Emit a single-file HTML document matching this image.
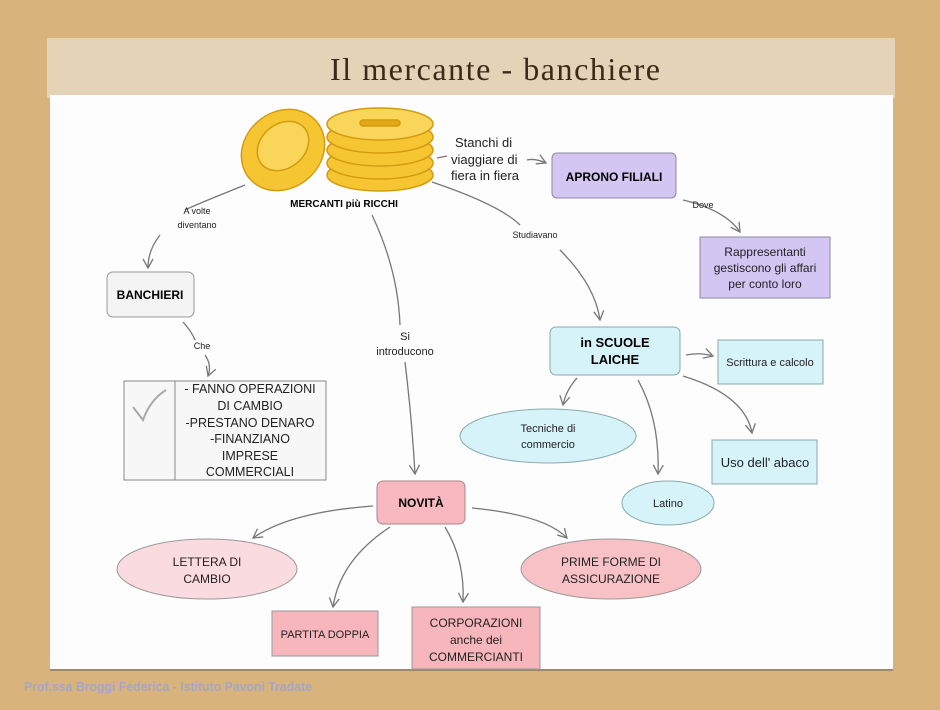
<!DOCTYPE html>
<html><head><meta charset="utf-8"><style>
html,body{margin:0;padding:0;}
body{width:940px;height:705px;overflow:hidden;background:#d8b37c;font-family:"Liberation Sans",sans-serif;}
</style></head><body>
<svg width="940" height="705" viewBox="0 0 940 705" xmlns="http://www.w3.org/2000/svg" font-family="Liberation Sans, sans-serif">
<defs>
<marker id="a" viewBox="0 0 12 12" refX="10" refY="6" markerWidth="12" markerHeight="12" markerUnits="userSpaceOnUse" orient="auto">
<path d="M1,1 L10,6 L1,11" fill="none" stroke="#777" stroke-width="1.3"/>
</marker>
</defs>
<rect width="940" height="705" fill="#d8b37c"/>
<rect x="47" y="38" width="848" height="60" fill="#e4d3b6"/>
<rect x="50" y="95" width="843" height="575" fill="#fdfdfd"/>
<line x1="50" y1="670" x2="893" y2="670" stroke="#9a8a70" stroke-width="2"/>
<text x="495" y="80" text-anchor="middle" font-family="Liberation Serif, serif" font-size="32" fill="#3a2a1a" textLength="330">Il mercante - banchiere</text>

<!-- coins -->
<g stroke="#d49a10" stroke-width="1.5" fill="#f6c632">
<ellipse cx="283" cy="150" rx="38" ry="44" transform="rotate(50 283 150)"/>
<ellipse cx="283" cy="146" rx="22" ry="28" transform="rotate(50 283 146)" fill="#f9d55a"/>
<ellipse cx="380" cy="175" rx="53" ry="16"/>
<ellipse cx="380" cy="163" rx="53" ry="16"/>
<ellipse cx="380" cy="150" rx="53" ry="16"/>
<ellipse cx="380" cy="137" rx="53" ry="16"/>
<ellipse cx="380" cy="124" rx="53" ry="16" fill="#f9d55a"/>
<rect x="360" y="120" width="40" height="6" rx="3" fill="#e0a818"/>
</g>
<text x="344" y="207" text-anchor="middle" font-size="10" font-weight="bold">MERCANTI più RICCHI</text>

<g fill="none" stroke="#777" stroke-width="1.3" marker-end="url(#a)">
<path d="M245,185 Q195,205 185,210 M160,235 Q148,250 148,268"/>
<path d="M527,160 Q535,158 546,163"/>
<path d="M683,200 Q725,210 740,232"/>
<path d="M432,182 Q500,205 520,225 M560,250 Q595,285 600,320"/>
<path d="M372,215 Q398,270 400,325 M405,362 Q412,420 415,474"/>
<path d="M183,322 Q192,332 195,340 M205,355 Q212,365 208,376"/>
<path d="M686,355 Q700,352 713,356"/>
<path d="M577,378 Q566,390 563,405"/>
<path d="M638,380 Q660,420 658,474"/>
<path d="M683,376 Q745,395 752,433"/>
<path d="M373,506 Q290,512 253,538"/>
<path d="M390,527 Q340,560 333,607"/>
<path d="M445,527 Q465,560 463,602"/>
<path d="M472,508 Q545,515 567,538"/>
</g>
<line x1="437" y1="158" x2="447" y2="156" stroke="#777" stroke-width="1.3"/>

<text font-size="13" fill="#222"><tspan x="455" y="147">Stanchi di</tspan><tspan x="451" y="164">viaggiare di</tspan><tspan x="451" y="180">fiera in fiera</tspan></text>
<text font-size="9" fill="#222" text-anchor="middle"><tspan x="197" y="214">A volte</tspan><tspan x="197" y="228">diventano</tspan></text>
<text x="703" y="208" font-size="9" text-anchor="middle" fill="#222">Dove</text>
<text x="535" y="238" font-size="9" text-anchor="middle" fill="#222">Studiavano</text>
<text x="202" y="349" font-size="9" text-anchor="middle" fill="#222">Che</text>
<text font-size="11" fill="#222" text-anchor="middle"><tspan x="405" y="340">Si</tspan><tspan x="405" y="355">introducono</tspan></text>

<rect x="552" y="153" width="124" height="45" rx="5" fill="#d4c6f2" stroke="#8a8a9a"/>
<text x="614" y="181" text-anchor="middle" font-size="12" font-weight="bold">APRONO FILIALI</text>
<rect x="700" y="237" width="130" height="61" fill="#d4c6f2" stroke="#8a8a9a"/>
<text font-size="12" text-anchor="middle" fill="#222"><tspan x="765" y="256">Rappresentanti</tspan><tspan x="765" y="272">gestiscono gli affari</tspan><tspan x="765" y="288">per conto loro</tspan></text>

<rect x="107" y="272" width="87" height="45" rx="6" fill="#f4f4f4" stroke="#999"/>
<text x="150" y="299" text-anchor="middle" font-size="12" font-weight="bold">BANCHIERI</text>

<rect x="124" y="381" width="202" height="99" fill="#f7f7f7" stroke="#888"/>
<line x1="175" y1="381" x2="175" y2="480" stroke="#888"/>
<path d="M133,407 L143,420 Q150,400 166,390" fill="none" stroke="#aaa" stroke-width="2"/>
<text font-size="12.5" text-anchor="middle" fill="#222"><tspan x="250" y="393">- FANNO OPERAZIONI</tspan><tspan x="250" y="410">DI CAMBIO</tspan><tspan x="250" y="427">-PRESTANO DENARO</tspan><tspan x="250" y="443">-FINANZIANO</tspan><tspan x="250" y="460">IMPRESE</tspan><tspan x="250" y="476">COMMERCIALI</tspan></text>

<rect x="550" y="327" width="130" height="48" rx="6" fill="#d7f3fa" stroke="#8aa"/>
<text font-size="13" font-weight="bold" text-anchor="middle"><tspan x="615" y="347">in SCUOLE</tspan><tspan x="615" y="364">LAICHE</tspan></text>
<rect x="718" y="340" width="105" height="44" fill="#d7f3fa" stroke="#8aa"/>
<text x="770" y="366" text-anchor="middle" font-size="11" fill="#222">Scrittura e calcolo</text>
<ellipse cx="548" cy="436" rx="88" ry="27" fill="#d7f3fa" stroke="#8aa"/>
<text font-size="11" text-anchor="middle" fill="#222"><tspan x="548" y="432">Tecniche di</tspan><tspan x="548" y="448">commercio</tspan></text>
<rect x="712" y="440" width="105" height="44" fill="#d7f3fa" stroke="#8aa"/>
<text x="765" y="467" text-anchor="middle" font-size="13" fill="#222">Uso dell' abaco</text>
<ellipse cx="668" cy="503" rx="46" ry="22" fill="#d7f3fa" stroke="#8aa"/>
<text x="668" y="507" text-anchor="middle" font-size="11" fill="#222">Latino</text>

<rect x="377" y="481" width="88" height="43" rx="6" fill="#f8b8bf" stroke="#a88"/>
<text x="421" y="507" text-anchor="middle" font-size="12" font-weight="bold">NOVITÀ</text>
<ellipse cx="207" cy="569" rx="90" ry="30" fill="#fadbe0" stroke="#999"/>
<text font-size="12" text-anchor="middle" fill="#222"><tspan x="207" y="566">LETTERA DI</tspan><tspan x="207" y="583">CAMBIO</tspan></text>
<ellipse cx="611" cy="569" rx="90" ry="30" fill="#f7c1c6" stroke="#999"/>
<text font-size="12" text-anchor="middle" fill="#222"><tspan x="611" y="566">PRIME FORME DI</tspan><tspan x="611" y="583">ASSICURAZIONE</tspan></text>
<rect x="272" y="611" width="106" height="45" fill="#f7b6bc" stroke="#999"/>
<text x="325" y="638" text-anchor="middle" font-size="11" fill="#222">PARTITA DOPPIA</text>
<rect x="412" y="607" width="128" height="62" fill="#f7b6bc" stroke="#999"/>
<text font-size="12" text-anchor="middle" fill="#222"><tspan x="476" y="627">CORPORAZIONI</tspan><tspan x="476" y="644">anche dei</tspan><tspan x="476" y="661">COMMERCIANTI</tspan></text>

<text x="24" y="691" font-size="13" font-weight="bold" fill="#a3a6c8" textLength="288" lengthAdjust="spacingAndGlyphs">Prof.ssa Broggi Federica - Istituto Pavoni Tradate</text>
</svg>
</body></html>
